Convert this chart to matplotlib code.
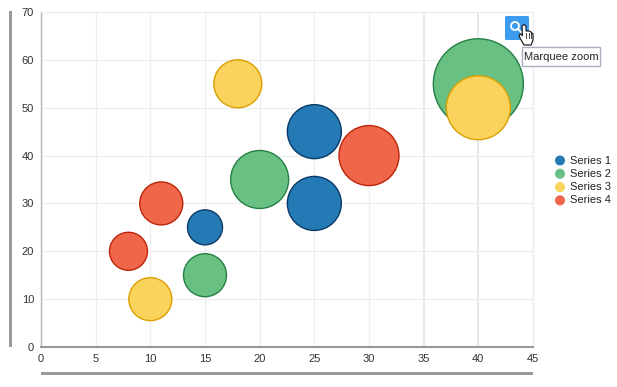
import matplotlib
matplotlib.use('Agg')
import matplotlib.pyplot as plt
from matplotlib.patches import Circle, FancyBboxPatch, Polygon, Rectangle

plt.rcParams['font.family'] = ['Liberation Sans', 'DejaVu Sans']

W, H = 617, 387
DPI = 100

series_names = ['Series 1', 'Series 2', 'Series 3', 'Series 4']
fill_colors = ['#247ab5', '#68c182', '#f9d35b', '#f0664a']
edge_colors = ['#0b3a66', '#258045', '#dc9f00', '#bf2508']

s1_x = [25, 25, 15]
s1_y = [45, 30, 25]
s1_r = [27, 27, 17.5]
s2_x = [40, 20, 15]
s2_y = [55, 35, 15]
s2_r = [45, 29, 21.5]
s3_x = [40, 18, 10]
s3_y = [50, 55, 10]
s3_r = [32, 24, 21.5]
s4_x = [30, 11, 8]
s4_y = [40, 30, 20]
s4_r = [30, 21.5, 19]

x_ticks = [0, 5, 10, 15, 20, 25, 30, 35, 40, 45]
y_ticks = [0, 10, 20, 30, 40, 50, 60, 70]

fig = plt.figure(figsize=(W / DPI, H / DPI), dpi=DPI, facecolor='white')

# plot area in pixels: x 41..533, y 12..347
ax = fig.add_axes([41 / W, 1 - 347 / H, (533 - 41) / W, (347 - 12) / H])
ax.set_xlim(0, 45)
ax.set_ylim(0, 70)
ax.set_xticks(x_ticks)
ax.set_yticks(y_ticks)
ax.grid(color='#eeeef2', lw=0.9)
ax.set_axisbelow(True)
ax.tick_params(length=0, labelsize=8, labelcolor='#333333', pad=5)
for side in ['top', 'right']:
    ax.spines[side].set_color('#eeeef2')
    ax.spines[side].set_linewidth(0.9)
ax.spines['left'].set_color('#b5b5b5')
ax.spines['left'].set_linewidth(1)
ax.spines['bottom'].set_color('#999999')
ax.spines['bottom'].set_linewidth(1.5)

# the two grid lines on the right come out heavier and bluer
for line in ax.get_xgridlines()[7:9]:
    line.set_color('#e3e8ef')
    line.set_linewidth(1.3)

all_x = [s1_x, s2_x, s3_x, s4_x]
all_y = [s1_y, s2_y, s3_y, s4_y]
all_r = [s1_r, s2_r, s3_r, s4_r]
for xs, ys, rs, fc, ec in zip(all_x, all_y, all_r, fill_colors, edge_colors):
    # scatter size is in points^2, radius is read in pixels
    sizes = [(2 * r * 72 / DPI) ** 2 for r in rs]
    ax.scatter(xs, ys, s=sizes, c=fc, edgecolors=ec, linewidths=1, clip_on=False, zorder=3)

# overlay in pixel coordinates for legend, scroll bars and the zoom button
ov = fig.add_axes([0, 0, 1, 1], facecolor='none')
ov.set_xlim(0, W)
ov.set_ylim(H, 0)
ov.axis('off')

# thick bars beside the axes
ov.add_patch(Rectangle((9, 11), 3, 336, color='#999999', lw=0))
ov.add_patch(Rectangle((41, 372), 492, 3, color='#999999', lw=0))

# legend
for i, (name, fc) in enumerate(zip(series_names, fill_colors)):
    y = 160.5 + i * 13.3
    ov.add_patch(Circle((560, y), 5, color=fc, lw=0))
    ov.text(570, y, name, fontsize=8, color='#222222', va='center', ha='left')

# marquee zoom button
ov.add_patch(FancyBboxPatch((505, 16), 24, 24, boxstyle='round,pad=0,rounding_size=1.5',
                            fc='#3d9bf0', ec='none', zorder=5))
ov.add_patch(Circle((515, 26), 4, fc='none', ec='white', lw=1.3, zorder=6))
ov.plot([518, 522], [29, 33], color='white', lw=1.3, zorder=6)

# tooltip
ov.add_patch(Rectangle((521.5, 46.5), 78, 19, fc='white', ec='#aab0c0', lw=1, zorder=7))
ov.text(523.5, 56.5, 'Marquee zoom', fontsize=8, color='#222222', va='center', ha='left', zorder=8)

# hand cursor
hand = [(522, 26), (524, 24.5), (526, 26), (526, 31), (529, 31), (531, 32), (533, 34),
        (533, 40), (531, 45), (524, 45), (520, 38), (519, 35), (521, 34), (522.5, 36)]
ov.add_patch(Polygon(hand, closed=True, fc='white', ec='#222222', lw=0.9, zorder=9))
for hx in [526, 528.5, 531]:
    ov.plot([hx, hx], [33, 38], color='#222222', lw=0.6, zorder=10)

plt.savefig('out.png', dpi=DPI)
